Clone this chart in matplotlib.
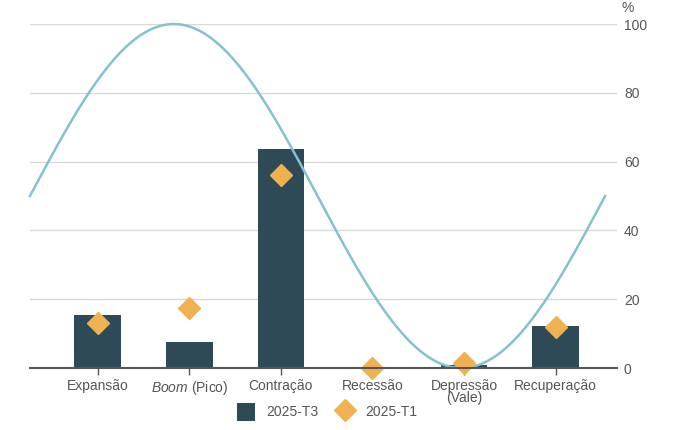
import numpy as np
import matplotlib.pyplot as plt
from matplotlib.lines import Line2D
from matplotlib.patches import Patch

plt.rcParams['font.family'] = ['Liberation Sans', 'DejaVu Sans']
plt.rcParams['mathtext.fontset'] = 'custom'
plt.rcParams['mathtext.it'] = 'Liberation Sans:italic'
plt.rcParams['mathtext.rm'] = 'Liberation Sans'

categories = ["Expansão", r"$\it{Boom}$ (Pico)", "Contração", "Recessão", "Depressão\n(Vale)", "Recuperação"]
t3_values = [15.5, 7.6, 63.7, 0.0, 1.0, 12.2]
t1_values = [13.1, 17.4, 56.1, 0.0, 1.5, 12.0]

# business-cycle guide curve
cycle_start, cycle_end = -0.74, 5.54
cycle_peak = 0.83
cycle_period = 6.28

bar_color = "#2e4a57"
diamond_color = "#f0b153"
curve_color = "#86c1d0"
text_color = "#555555"

fig = plt.figure(figsize=(6.74, 4.30), dpi=100)
ax = fig.add_axes([30 / 674, 62 / 430, 587 / 674, 344 / 430])

x = np.arange(len(categories))
ax.bar(x, t3_values, width=0.51, color=bar_color, zorder=2)
ax.plot(x, t1_values, linestyle="none", marker="D", markersize=11,
        color=diamond_color, zorder=4, clip_on=False)

xs = np.linspace(cycle_start, cycle_end, 300)
ys = 50 + 50 * np.cos(2 * np.pi * (xs - cycle_peak) / cycle_period)
ax.plot(xs, ys, color=curve_color, linewidth=1.8, zorder=3, clip_on=False)

ax.set_xlim(-0.74, 5.67)
ax.set_ylim(0, 100)
ax.set_yticks(range(0, 101, 20))
ax.yaxis.tick_right()
ax.tick_params(axis="y", length=0, pad=5, labelsize=10, labelcolor=text_color)
ax.grid(axis="y", color="#d9d9d9", linewidth=1, zorder=0)
ax.set_axisbelow(True)

ax.set_xticks(x)
ax.set_xticklabels(categories, linespacing=0.8)
ax.tick_params(axis="x", length=5, width=1, color=text_color, labelsize=10,
               labelcolor=text_color, pad=3)

for side in ["top", "left", "right"]:
    ax.spines[side].set_visible(False)
ax.spines["bottom"].set_color("#555555")
ax.spines["bottom"].set_linewidth(1.5)
ax.spines["bottom"].set_zorder(5)

ax.text(1.008, 1.025, "%", transform=ax.transAxes, ha="left", va="bottom",
        fontsize=10, color=text_color)

handles = [Patch(facecolor=bar_color, label="2025-T3"),
           Line2D([], [], linestyle="none", marker="D", markersize=11,
                  color=diamond_color, label="2025-T1")]
fig.legend(handles=handles, loc="center", bbox_to_anchor=(0.485, 0.042), ncol=2,
           frameon=False, fontsize=10, labelcolor=text_color,
           handlelength=1.3, handleheight=1.6, columnspacing=1.3, handletextpad=0.8)

fig.savefig("out.png", dpi=100)
